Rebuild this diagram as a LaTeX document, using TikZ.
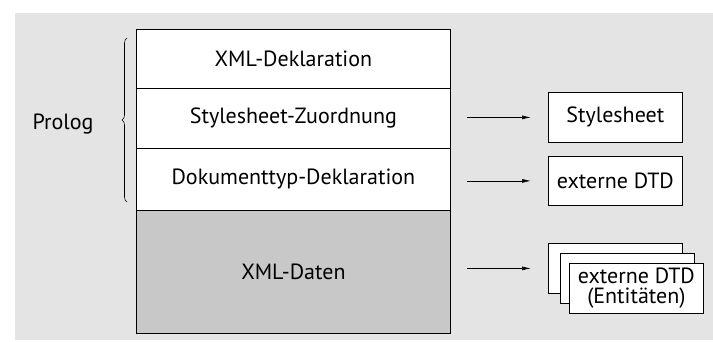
\documentclass[tikz,border=0pt]{standalone}
\usepackage{fontspec}
\setmainfont{PT Sans}
\usetikzlibrary{arrows.meta,decorations.pathreplacing}
\definecolor{bggray}{HTML}{E4E4E4}
\definecolor{datagray}{HTML}{C8C8C8}
\tikzset{labelfont/.style={font=\fontsize{22}{24}\selectfont}}
\begin{document}
\begin{tikzpicture}[x=1pt,y=-1pt,
  layer/.style={draw=black, line width=0.8pt, fill=white, minimum width=314pt, anchor=north west, inner sep=0pt, labelfont},
  target/.style={draw=black, line width=0.8pt, fill=white, minimum width=134pt, minimum height=50pt, anchor=north west, inner sep=0pt, labelfont, align=center},
  link/.style={-{Latex[length=9pt,width=4pt]}, line width=0.7pt, shorten <=16pt, shorten >=17pt}]
\useasboundingbox (0,0) rectangle (713,341);
\fill[bggray] (15,13) rectangle (713,340);
% stacked layers of the document
\node[layer, minimum height=59pt] (decl) at (136,29) {XML-Deklaration};
\node[layer, minimum height=60pt] (style) at (136,88) {Stylesheet-Zuordnung};
\node[layer, minimum height=62pt] (doctype) at (136,148) {Dokumenttyp-Deklaration};
\node[layer, minimum height=123pt, fill=datagray] (data) at (136,210) {XML-Daten};
% prolog brace
\coordinate (braceb) at (127,202);
\coordinate (bracet) at (127,38);
\draw[line width=0.6pt, decorate, decoration={brace, amplitude=5pt}]
  (braceb) -- (bracet);
\node[labelfont] (prolog) at (63,124) {Prolog};
% external resources
\node[target] (sheet) at (548,92) {Stylesheet};
\node[target, minimum height=49pt] (dtd) at (548,156) {externe DTD};
\node[target] (ent1) at (548,243) {};
\node[target] (ent2) at (560,253) {};
\node[target, font=\fontsize{22}{20}\selectfont] (ent3) at (569,263) {externe DTD\\(Entitäten)};
% connectors
\draw[link] (style.east |- sheet.west) -- (sheet.west);
\draw[link] (doctype.east |- dtd.west) -- (dtd.west);
\draw[link] (data.east |- ent1.west) -- (ent1.west);
\end{tikzpicture}
\end{document}
